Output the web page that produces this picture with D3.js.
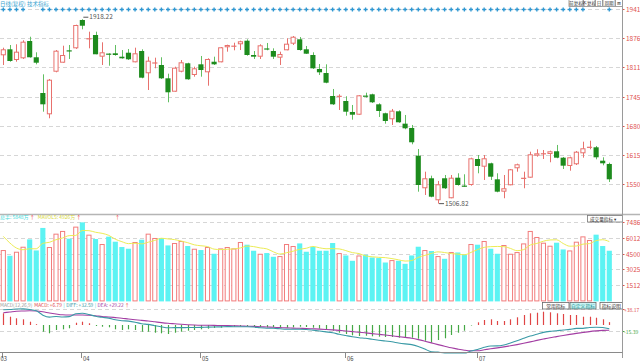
<!DOCTYPE html>
<html>
<head>
<meta charset="utf-8">
<script src="https://cdn.jsdelivr.net/npm/d3@7"></script>
<style>
  body { margin: 0; background: #fff; }
  svg { display: block; font-family: "Noto Sans CJK SC", "DejaVu Sans", sans-serif; }
</style>
</head>
<body>
<svg id="chart" width="640" height="362"></svg>
<script>
// daily bars (index 0 = first trading day shown)
const open = [1837.7,1851.1,1827.2,1831.0,1869.6,1833.3,1753.6,1706.1,1801.1,1821.2,
  1848.4,1853.3,1916.5,1873.4,1883.0,1834.6,1841.3,1842.2,1834.6,1843.5,
  1822.1,1847.3,1797.6,1819.0,1816.1,1786.4,1756.5,1801.1,1819.9,1793.8,
  1817.6,1799.8,1823.4,1822.1,1855.6,1856.9,1862.3,1870.3,1838.4,1834.6,
  1853.3,1847.3,1832.4,1848.9,1863.6,1873.4,1851.1,1838.4,1807.2,1798.2,
  1746.9,1744.7,1735.8,1711.3,1705.2,1747.6,1750.7,1728.4,1708.4,1695.0,
  1712.8,1685.2,1675.6,1613.8,1541.1,1563.4,1514.3,1563.4,1518.8,1564.7,
  1546.9,1548.4,1606.4,1589.2,1596.8,1561.1,1533.5,1547.8,1585.7,1562.5,
  1564.7,1613.8,1616.9,1617.6,1623.6,1609.3,1590.8,1594.6,1619.1,1631.0,
  1632.5,1602.6,1595.3];
const close = [1851.1,1825.0,1845.8,1868.1,1833.3,1821.2,1728.4,1783.3,1848.0,1838.4,
  1846.6,1905.3,1903.7,1875.6,1840.0,1844.4,1839.1,1838.4,1831.0,1828.8,
  1842.2,1787.8,1825.7,1822.1,1786.4,1755.2,1810.1,1822.1,1784.2,1808.7,
  1804.9,1829.5,1817.6,1855.6,1860.7,1859.1,1869.0,1838.4,1834.6,1860.0,
  1850.2,1834.6,1840.6,1863.6,1879.2,1849.5,1841.3,1808.7,1799.8,1776.6,
  1728.4,1747.6,1711.9,1705.2,1748.5,1745.4,1732.9,1713.5,1691.2,1714.2,
  1688.3,1674.9,1643.7,1548.4,1563.4,1522.3,1550.0,1541.1,1564.7,1548.4,
  1544.6,1608.0,1590.8,1608.0,1566.9,1533.5,1541.1,1583.4,1594.6,1564.0,
  1616.9,1619.1,1619.1,1623.6,1609.3,1591.5,1610.2,1622.7,1630.3,1633.9,
  1610.2,1596.8,1561.1];
const high = [1854.7,1860.7,1862.3,1871.2,1879.2,1844.4,1795.3,1784.8,1849.5,1859.1,
  1860.7,1906.0,1918.22,1890.4,1890.4,1866.7,1842.2,1860.7,1849.5,1851.8,
  1854.7,1851.1,1834.6,1832.4,1833.3,1796.7,1812.3,1827.2,1821.2,1812.3,
  1836.2,1831.0,1834.6,1856.2,1861.4,1865.8,1870.3,1873.4,1847.3,1862.3,
  1865.2,1853.3,1845.8,1875.6,1880.8,1878.5,1858.5,1844.4,1818.3,1817.6,
  1762.6,1750.7,1746.3,1726.9,1749.0,1754.3,1752.1,1730.7,1709.7,1718.0,
  1715.0,1704.6,1682.3,1628.7,1578.1,1569.2,1557.4,1570.7,1570.7,1574.5,
  1572.3,1609.3,1615.3,1615.3,1598.2,1574.5,1570.7,1584.1,1596.0,1578.1,
  1622.7,1628.1,1626.5,1625.0,1637.7,1610.9,1611.6,1624.3,1645.0,1647.2,
  1635.4,1610.2,1598.2];
const low = [1816.1,1823.4,1823.4,1829.5,1832.4,1817.6,1711.9,1697.2,1799.8,1821.2,
  1829.5,1852.0,1895.7,1853.3,1840.0,1816.1,1814.5,1836.8,1830.1,1827.2,
  1822.1,1786.4,1760.3,1808.7,1784.8,1732.9,1756.5,1799.8,1783.1,1790.0,
  1790.0,1769.9,1816.1,1822.1,1845.8,1848.9,1849.5,1836.8,1829.5,1829.5,
  1848.9,1829.5,1816.1,1848.9,1860.7,1848.0,1840.6,1807.2,1793.8,1775.3,
  1726.9,1715.7,1703.0,1694.1,1705.2,1743.2,1731.3,1700.1,1685.2,1682.3,
  1687.2,1672.7,1639.2,1533.5,1526.1,1521.0,1506.82,1539.5,1518.8,1546.9,
  1544.6,1546.9,1574.5,1559.6,1559.6,1532.1,1518.8,1547.8,1578.1,1541.1,
  1564.7,1611.6,1606.4,1599.1,1608.0,1584.1,1580.3,1593.0,1609.3,1628.1,
  1605.7,1592.4,1555.1];

// volume (万手) and its 5-day average
const volume = [4861,4318,4699,5174,5869,4823,6953,5146,6411,6668,
  5935,7077,7480,6316,5907,5431,6126,5650,5146,4984,
  5622,5840,6411,6002,6002,5298,5526,5717,5241,4984,
  4861,5146,4509,5013,5146,5013,5622,5365,4794,4509,
  4575,4223,4290,5431,5241,5488,4699,5146,4794,4794,
  5526,4575,4347,3843,4347,4414,4157,4100,3681,3909,
  3843,3557,4347,5174,4861,4766,4290,4033,4670,4632,
  4414,5431,5365,5717,4984,4509,5336,4509,4670,5488,
  6668,6097,5555,5270,5555,4918,4823,5650,6154,5812,
  6316,5241,4794];
const mavol5 = [6155,5526,5050,4890,4984,4977,5504,5593,5840,6000,
  6223,6247,6714,6695,6543,6442,6252,5886,5652,5467,
  5506,5448,5601,5772,5975,5911,5848,5709,5557,5353,
  5266,5190,4948,4903,4935,4965,5061,5232,5188,5061,
  4973,4693,4478,4606,4752,4935,5030,5201,5074,4984,
  4992,4967,4807,4617,4528,4305,4222,4172,4140,4052,
  3938,3818,3867,4166,4356,4541,4688,4625,4524,4478,
  4408,4636,4902,5112,5182,5201,5182,5011,4802,4902,
  5334,5486,5696,5816,5829,5479,5224,5243,5420,5471,
  5751,5835,5663];

// MACD(12,26,9)
const macd = [27.9,19.8,16.0,13.6,7.9,1.9,-16.0,-19.8,-11.9,-10.3,
  -7.9,5.5,7.9,4.1,-2.4,-4.1,-5.5,-10.3,-11.9,-10.3,
  -11.9,-16.0,-16.0,-18.4,-19.8,-21.5,-18.4,-16.0,-13.6,-11.9,
  -10.3,-8.8,-7.2,-6.4,-4.8,-4.1,-3.1,-2.4,-3.1,-4.8,
  -5.5,-4.8,-5.5,-6.4,-5.5,-4.1,-4.8,-6.4,-8.8,-11.2,
  -13.6,-18.4,-21.5,-24.6,-26.2,-25.5,-27.0,-27.9,-28.6,-28.6,
  -30.3,-31.0,-30.3,-32.7,-37.5,-42.2,-35.8,-31.7,-23.9,-18.4,
  -13.6,-1.2,6.4,11.9,13.6,9.5,9.5,13.6,18.4,23.9,
  27.9,29.3,31.7,30.3,27.9,26.2,23.9,23.9,19.8,19.8,
  17.4,13.6,6.79];
const diff = [36.5,37.0,38.0,38.5,37.0,34.0,23.5,18.7,20.3,19.2,
  20.0,26.7,27.9,25.2,20.7,18.3,16.4,12.6,10.3,9.2,
  6.7,3.0,1.5,-1.6,-4.2,-6.7,-6.3,-6.3,-6.1,-6.0,
  -5.7,-5.1,-4.6,-4.4,-3.8,-4.0,-4.0,-4.1,-4.9,-6.5,
  -7.6,-7.9,-9.0,-10.1,-10.2,-10.0,-10.7,-12.3,-14.2,-16.3,
  -18.5,-22.1,-25.1,-28.0,-30.3,-31.6,-34.0,-36.2,-38.2,-40.1,
  -42.9,-45.1,-46.9,-51.2,-57.4,-63.8,-64.7,-66.5,-66.4,-66.7,
  -66.9,-62.1,-58.3,-53.3,-50.0,-49.9,-47.5,-42.8,-37.6,-31.8,
  -26.4,-22.1,-17.6,-15.2,-13.8,-11.9,-10.5,-8.1,-8.0,-5.8,
  -5.4,-6.1,-9.0];
const dea = [29.3,31.0,32.7,33.4,33.9,33.4,31.5,28.6,26.2,24.3,
  23.9,23.9,23.9,23.1,21.9,20.3,19.1,17.7,16.2,14.3,
  12.6,11.0,9.5,7.6,5.7,4.1,2.9,1.7,0.7,0.0,
  -0.5,-0.7,-1.0,-1.2,-1.4,-1.9,-2.4,-2.9,-3.3,-4.1,
  -4.8,-5.5,-6.2,-6.9,-7.4,-7.9,-8.3,-9.1,-9.8,-10.7,
  -11.7,-12.9,-14.3,-15.7,-17.2,-18.8,-20.5,-22.2,-23.9,-25.8,
  -27.7,-29.6,-31.7,-34.8,-38.6,-42.7,-46.8,-50.6,-54.4,-57.5,
  -60.1,-61.5,-61.5,-59.2,-56.8,-54.6,-52.2,-49.6,-46.8,-43.7,
  -40.3,-36.7,-33.4,-30.3,-27.7,-25.0,-22.4,-20.0,-17.9,-15.7,
  -14.1,-12.9,-12.4];

// days without the blue event marker on the top row
const noMarkDays = [4, 5, 89, 90, 91];

const monthLabels = ["03", "04", "05", "06", "07"];
const monthStart = [0, 12, 30, 52, 72];

const priceTicks = [1941, 1876, 1811, 1745, 1680, 1615, 1550];
const volTicks = [7486, 6012, 4500, 3025, 1512];
const macdTicks = [38.17, -15.39];
const macdTickLabels = ["+38.17", "-15.39"];

const svg = d3.select("#chart");
const right = 622.5;
const RED = "#e8716d", GREEN = "#1d8b1d", GREEN_WICK = "#62bf62";
const CYAN = "#5cf3f3", GRID = "#d6d6d6";

const x = d3.scaleBand().domain(d3.range(open.length)).range([-0.7, 613.3]).padding(0.22);
const bw = x.bandwidth();
const cx = i => x(i) + bw / 2;

const yP = d3.scaleLinear().domain([1483.7, 1941]).range([214, 9]);
const yV = d3.scaleLinear().domain([0, 7486]).range([301.4, 222.3]);
const yM = d3.scaleLinear().domain([-70, 40]).range([325 + 70 * 0.4192, 325 - 40 * 0.4192]);

function grid(scale, ticks) {
  svg.append("g").selectAll("line").data(ticks).join("line")
    .attr("x1", 0).attr("x2", right)
    .attr("y1", d => Math.round(scale(d)) + 0.5).attr("y2", d => Math.round(scale(d)) + 0.5)
    .attr("stroke", GRID).attr("stroke-dasharray", "4,3");
}
function rightLabels(scale, ticks, labels, color, size) {
  const g = svg.append("g");
  ticks.forEach((d, k) => {
    const yy = Math.round(scale(d)) + 0.5;
    const col = typeof color === "function" ? color(d) : color;
    g.append("line").attr("x1", right).attr("x2", right + 2).attr("y1", yy).attr("y2", yy).attr("stroke", col);
    g.append("text").attr("x", right + (size < 6 ? 1.5 : 3.5)).attr("y", yy + 2.2)
      .attr("font-size", size).attr("fill", col).text(labels[k]);
  });
}
// legend pieces laid one after another at their natural width
function flowRow(x0, y, size, pieces) {
  let px = x0;
  pieces.forEach(([t, col, gap]) => {
    const el = svg.append("text").attr("x", px).attr("y", y).attr("font-size", size).attr("fill", col).text(t);
    px += el.node().getComputedTextLength() + (gap == null ? 1.5 : gap);
  });
}

// ---------- price panel ----------
grid(yP, priceTicks);
rightLabels(yP, priceTicks, priceTicks.map(String), "#e0524f", 6.5);

const candles = svg.append("g");
open.forEach((o, i) => {
  const c = close[i], up = c >= o;
  const col = up ? RED : GREEN;
  candles.append("line")
    .attr("x1", Math.round(cx(i)) + 0.5).attr("x2", Math.round(cx(i)) + 0.5)
    .attr("y1", yP(high[i])).attr("y2", yP(low[i]))
    .attr("stroke", up ? RED : GREEN_WICK);
  const top = yP(Math.max(o, c)), bot = yP(Math.min(o, c));
  if (bot - top < 1.5) {
    candles.append("line").attr("x1", x(i)).attr("x2", x(i) + bw)
      .attr("y1", (top + bot) / 2).attr("y2", (top + bot) / 2).attr("stroke", col).attr("stroke-width", 1.2);
  } else if (up) {
    candles.append("rect").attr("x", x(i) + 0.5).attr("y", top + 0.5)
      .attr("width", bw - 1).attr("height", bot - top - 1)
      .attr("fill", "#fff").attr("stroke", RED);
  } else {
    candles.append("rect").attr("x", x(i)).attr("y", top)
      .attr("width", bw).attr("height", bot - top).attr("fill", GREEN);
  }
});

// highest / lowest markers
const hiIdx = d3.maxIndex(high), loIdx = d3.minIndex(low);
[[hiIdx, high[hiIdx], -2], [loIdx, low[loIdx], 0]].forEach(([i, v, dy]) => {
  const yy = yP(v) + dy;
  svg.append("line").attr("x1", cx(i) + 1).attr("x2", cx(i) + 6).attr("y1", yy).attr("y2", yy)
    .attr("stroke", "#555");
  svg.append("text").attr("x", cx(i) + 7).attr("y", yy + 2.2).attr("font-size", 6.5)
    .attr("fill", "#555").text(v.toFixed(2));
});

// event markers along the top gridline
svg.append("g").selectAll("path")
  .data(d3.range(open.length).filter(i => !noMarkDays.includes(i)))
  .join("path")
  .attr("transform", i => `translate(${cx(i)},9.5)`)
  .attr("d", d3.symbol(d3.symbolCross, 9))
  .attr("fill", "#2e97d2");

// header
svg.append("text").attr("x", 0).attr("y", 5.5).attr("font-size", 5.5).attr("fill", "#3ba3cf").text("日线(复权)");
svg.append("text").attr("x", 27).attr("y", 5.5).attr("font-size", 5.5).attr("fill", "#3ba3cf").text("技术指标");

// top-right buttons
const btns = [["前复权", 569, 14], ["不复权", 583.5, 11.5], ["日", 595.5, 7], ["周期", 603, 12], ["⊞", 615.5, 7]];
btns.forEach(([t, bx, bwid]) => {
  svg.append("rect").attr("x", bx).attr("y", -1).attr("width", bwid).attr("height", 7.5)
    .attr("fill", "#fff").attr("stroke", "#8a8a8a").attr("stroke-width", 0.8);
  svg.append("text").attr("x", bx + bwid / 2).attr("y", 5).attr("text-anchor", "middle")
    .attr("font-size", 4.6).attr("fill", "#333").text(t);
});

// separator
svg.append("line").attr("x1", 0).attr("x2", 640).attr("y1", 214.5).attr("y2", 214.5)
  .attr("stroke", "#b5b5b5").attr("stroke-width", 1.3);

// ---------- volume panel ----------
grid(yV, volTicks);
rightLabels(yV, volTicks, volTicks.map(String), "#e0524f", 6.5);

const vbars = svg.append("g");
volume.forEach((v, i) => {
  const up = close[i] >= open[i];
  if (up) {
    vbars.append("rect").attr("x", x(i) + 0.5).attr("y", yV(v) + 0.5)
      .attr("width", bw - 1).attr("height", yV(0) - yV(v) - 1)
      .attr("fill", "#fff").attr("stroke", "#f27c7c");
  } else {
    vbars.append("rect").attr("x", x(i)).attr("y", yV(v))
      .attr("width", bw).attr("height", yV(0) - yV(v)).attr("fill", CYAN);
  }
});
svg.append("path").datum(mavol5)
  .attr("d", d3.line().x((d, i) => cx(i)).y(d => yV(d)).curve(d3.curveMonotoneX))
  .attr("fill", "none").attr("stroke", "#ecec55").attr("stroke-width", 1);

flowRow(0, 219.3, 5, [["总手: 5848万", "#3cdada", 1], ["↑", "#e33", 3], ["MAVOL5: 4926万", "#d8d83a", 1], ["↑", "#e33"]]);
svg.append("text").attr("x", 115).attr("y", 219.3).attr("font-size", 5).attr("fill", "#e33").text("↑");

svg.append("rect").attr("x", 587.5).attr("y", 215.5).attr("width", 35).attr("height", 6.5)
  .attr("fill", "#fff").attr("stroke", "#777").attr("stroke-width", 0.8);
svg.append("text").attr("x", 590).attr("y", 220.6).attr("font-size", 4.6).attr("fill", "#333").text("成交量指标 ▾");

// ---------- MACD panel ----------
grid(yM, macdTicks);
rightLabels(yM, macdTicks, macdTickLabels, d => d > 0 ? "#e0524f" : "#4aa84a", 5);

svg.append("g").selectAll("line").data(macd).join("line")
  .attr("x1", (d, i) => Math.round(cx(i)) + 0.5).attr("x2", (d, i) => Math.round(cx(i)) + 0.5)
  .attr("y1", yM(0)).attr("y2", d => yM(d))
  .attr("stroke", d => d >= 0 ? "#e04545" : "#45a845").attr("stroke-width", 1.2);

const mline = d3.line().x((d, i) => cx(i)).y(d => yM(d)).curve(d3.curveMonotoneX);
svg.append("path").datum(dea).attr("d", mline).attr("fill", "none")
  .attr("stroke", "#a33ea3").attr("stroke-width", 1.1);
svg.append("path").datum(diff).attr("d", mline).attr("fill", "none")
  .attr("stroke", "#3a9aa6").attr("stroke-width", 1.1);

flowRow(0, 307, 4.8, [
  ["MACD(12,26,9)", "#9a9a9a", 2], ["MACD: +6.79", "#e04545"], ["|", "#3cdada"],
  ["DIFF: +32.59", "#3a9aa6"], ["|", "#3cdada"], ["DEA: +29.22", "#a33ea3", 1], ["↑", "#e33"]]);

const mBtns = [["常用指标", 542.5, 26.5, false], ["自定义指标", 570, 26, true], ["指标说明", 600, 22.5, false]];
mBtns.forEach(([t, bx, bwid, on]) => {
  svg.append("rect").attr("x", bx).attr("y", 302.5).attr("width", bwid).attr("height", 6.5)
    .attr("fill", on ? "#c9f4f4" : "#fff").attr("stroke", "#666").attr("stroke-width", 0.8);
  svg.append("text").attr("x", bx + bwid / 2).attr("y", 307.6).attr("text-anchor", "middle")
    .attr("font-size", 4.8).attr("fill", on ? "#178a8a" : "#333").text(t);
});

// ---------- axes ----------
svg.append("line").attr("x1", right).attr("x2", right).attr("y1", 0).attr("y2", 358)
  .attr("stroke", "#9a9a9a");
svg.append("line").attr("x1", 0).attr("x2", right).attr("y1", 352.5).attr("y2", 352.5)
  .attr("stroke", "#8a8a8a");
monthStart.forEach((i, k) => {
  const tx = Math.round(cx(i)) - 0.5;
  svg.append("line").attr("x1", tx).attr("x2", tx).attr("y1", 352.5).attr("y2", 358).attr("stroke", "#8a8a8a");
  svg.append("text").attr("x", k === 0 ? 0.5 : tx + 1.5).attr("y", 360.5).attr("font-size", 5.8)
    .attr("fill", "#444").text(monthLabels[k]);
});
</script>
</body>
</html>
